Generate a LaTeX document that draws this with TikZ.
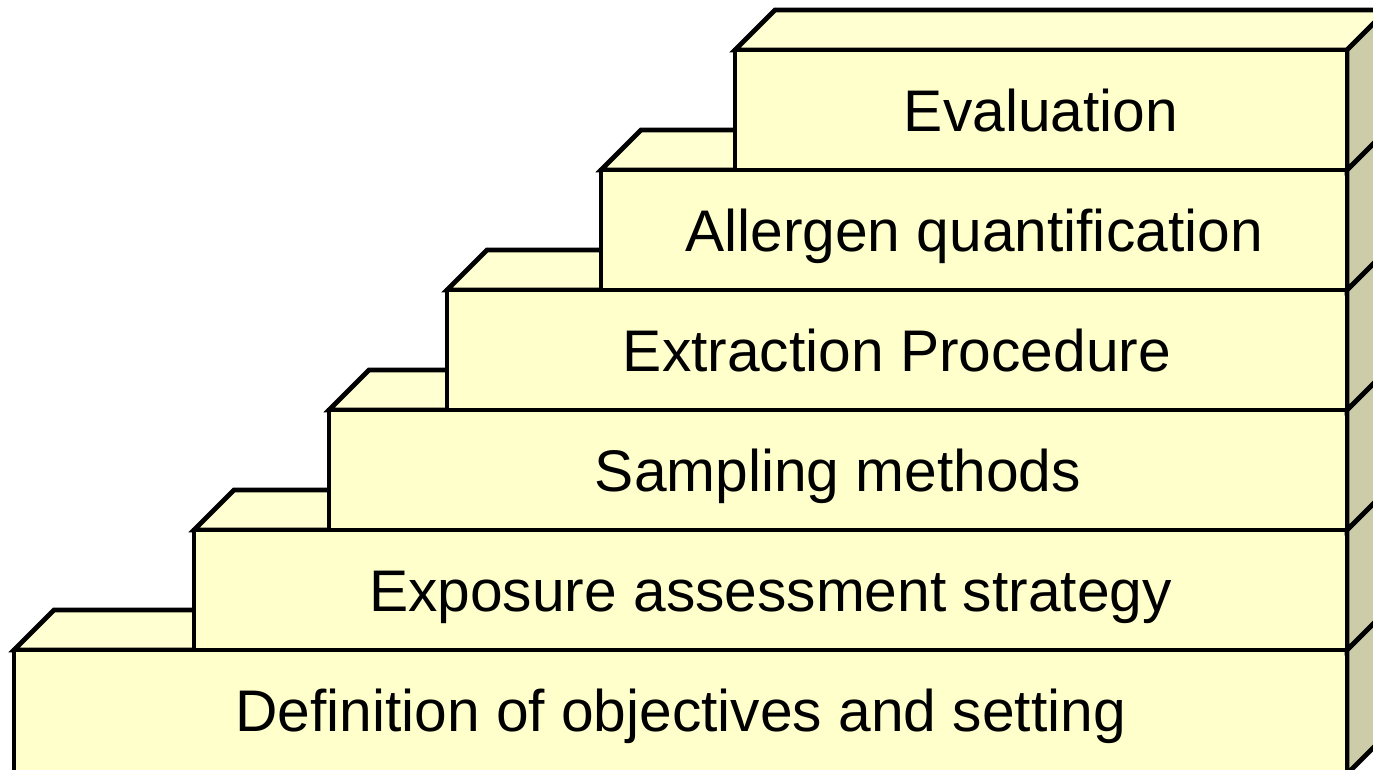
\documentclass[tikz,border=0pt]{standalone}
\usepackage{fontspec}
\setmainfont{Liberation Sans}
\definecolor{frontc}{HTML}{FFFFCC}
\definecolor{topc}{HTML}{FFFFD2}
\definecolor{sidec}{HTML}{CCCCA8}
\begin{document}
\begin{tikzpicture}[x=1pt,y=-1pt,
  edge/.style={draw=black,line width=4.7pt,line join=miter},
  lbl/.style={font=\fontsize{58.7}{70}\selectfont, anchor=base, inner sep=0pt}]
\useasboundingbox (0,0) rectangle (1373,769);
\clip (0,0) rectangle (1373,769);
\foreach \L/\T/\H/\txt [count=\i] in {
  14/650/124/Definition of objectives and setting,
  194/530/120/Exposure assessment strategy,
  329/410/120/Sampling methods,
  447/290/120/Extraction Procedure,
  601/170/120/Allergen quantification,
  735/50/120/Evaluation}{
  \pgfmathsetmacro\B{\T+\H}
  \filldraw[edge, fill=topc] (\L,\T) -- ({\L+40},{\T-40}) -- (1387,{\T-40}) -- (1347,\T) -- cycle;
  \filldraw[edge, fill=sidec] (1347,\T) -- (1387,{\T-40}) -- (1387,{\B-40}) -- (1347,\B) -- cycle;
  \filldraw[edge, fill=frontc] (\L,\T) rectangle (1347,\B);
  \node[lbl] (s\i) at ({(\L+1347)/2},{\T+81}) {\txt};
}
\end{tikzpicture}
\end{document}
